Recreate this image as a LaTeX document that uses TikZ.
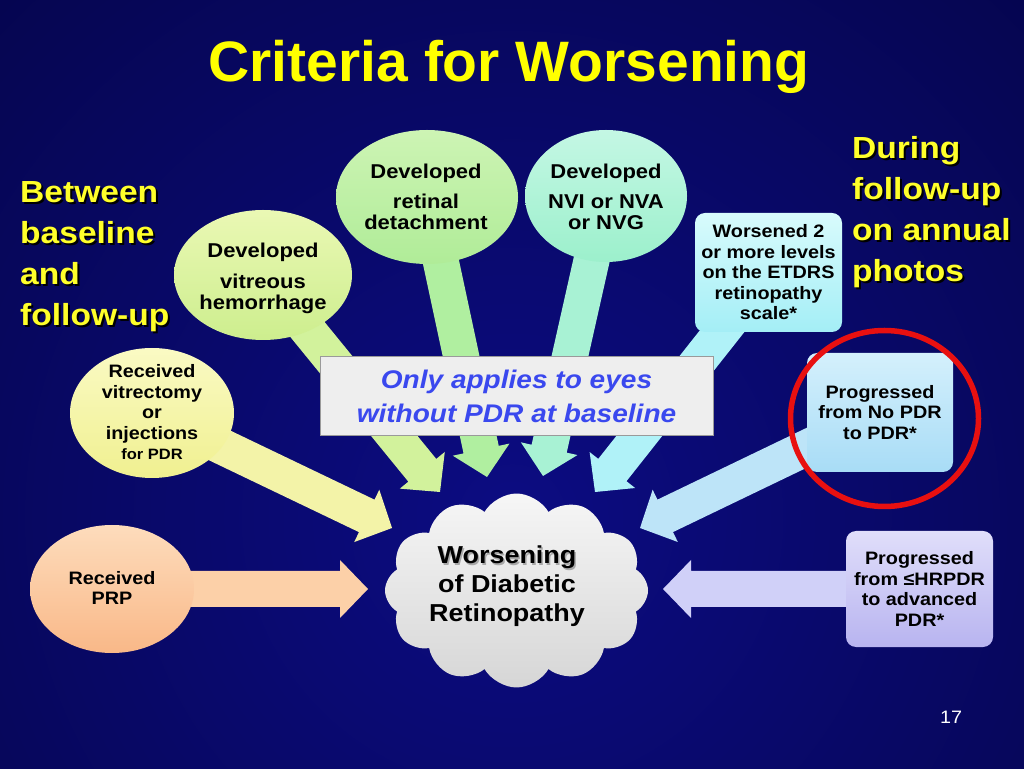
\documentclass[tikz,border=0pt]{standalone}
\usepackage{fontspec}
\setmainfont{Liberation Sans}[FakeStretch=1.1]
\newfontfamily\titlefont{Liberation Sans}
\usetikzlibrary{shapes.geometric,shapes.symbols,calc}
\pgfdeclarelayer{back}
\pgfdeclarelayer{arr}
\pgfsetlayers{back,arr,main}

\definecolor{bgin}{HTML}{0C0C82}
\definecolor{bgout}{HTML}{00002A}
\definecolor{titleyellow}{HTML}{FFFF00}
\definecolor{sideyellow}{HTML}{FFFF2A}
\definecolor{vhtop}{HTML}{EAF8B4}\definecolor{vhbot}{HTML}{CDEE8E}
\definecolor{rdtop}{HTML}{CDF4B4}\definecolor{rdbot}{HTML}{B0EC98}
\definecolor{nvtop}{HTML}{C4F7E4}\definecolor{nvbot}{HTML}{9CF0CC}
\definecolor{wbtop}{HTML}{D8FBFC}\definecolor{wbbot}{HTML}{A4EEF6}
\definecolor{vttop}{HTML}{FAFAC4}\definecolor{vtbot}{HTML}{F0F090}
\definecolor{prtop}{HTML}{FDDCBC}\definecolor{prbot}{HTML}{F9B888}
\definecolor{nptop}{HTML}{D4F0FC}\definecolor{npbot}{HTML}{A8DCF6}
\definecolor{hrtop}{HTML}{E0DEFA}\definecolor{hrbot}{HTML}{B8B4F0}
\definecolor{avh}{HTML}{D2F29C}
\definecolor{ard}{HTML}{B0EFA0}
\definecolor{anv}{HTML}{A8F2D4}
\definecolor{awb}{HTML}{B0F2F8}
\definecolor{avt}{HTML}{F3F3A8}
\definecolor{apr}{HTML}{FCD0A8}
\definecolor{anp}{HTML}{BDE4F8}
\definecolor{ahr}{HTML}{D0D0F8}
\definecolor{notefill}{HTML}{EEEEEE}
\definecolor{noteborder}{HTML}{9A9A9A}
\definecolor{noteblue}{HTML}{3A48EE}
\definecolor{cloudtop}{HTML}{F6F6F6}
\definecolor{cloudbot}{HTML}{D6D6D6}
\definecolor{ringred}{HTML}{E81010}

% block arrow from node #1 to tip coordinate #2, colour #3
\newcommand\blockarr[3]{%
  \path let \p1=($(#2)-(#1)$) in
    \pgfextra{\pgfmathsetmacro\arrang{atan2(\y1,\x1)}%
              \pgfmathsetmacro\arrlen{veclen(\x1,\y1)}%
              \xdef\arrang{\arrang}\xdef\arrlen{\arrlen}};
  \fill[#3, shift={(#2)}, rotate=\arrang]
    (0,0) -- (-28,29) -- (-28,18) -- (-\arrlen,18) -- (-\arrlen,-18)
    -- (-28,-18) -- (-28,-29) -- cycle;}

\begin{document}
\begin{tikzpicture}[x=1pt,y=1pt,
  ell/.style={ellipse, inner sep=0pt},
  rbox/.style={rectangle, rounded corners=10pt, inner sep=0pt, align=center,
    font=\bfseries\fontsize{18}{20.5}\selectfont},
  etxt/.style={align=center, inner sep=0pt, font=\bfseries\fontsize{20}{21}\selectfont},
  vtxt/.style={align=center, inner sep=0pt, font=\bfseries\fontsize{18}{20.5}\selectfont},
  side/.style={align=left, anchor=west, inner sep=0pt, text=sideyellow,
    font=\bfseries\fontsize{30.5}{41}\selectfont},
  sideshadow/.style={side, text=black},
  titletxt/.style={inner sep=0pt, text=titleyellow, font=\titlefont\bfseries\fontsize{57}{60}\selectfont},
  cloudtxt/.style={align=center, inner sep=0pt, font=\bfseries\fontsize{24.5}{29}\selectfont},
]
\useasboundingbox (0,0) rectangle (1024,768);

\begin{pgfonlayer}{back}
  \clip (0,0) rectangle (1024,768);
  \fill[bgout] (0,0) rectangle (1024,768);
  \shade[inner color=bgin, outer color=bgout] (512,250) circle (1300);
\end{pgfonlayer}

% title
\node[titletxt] (title) at (509,701) {Criteria for Worsening};

% side labels
\node[sideshadow] (leftsh) at (22,509) {Between\\baseline\\and\\follow-up};
\node[side] (left) at (20,511) {Between\\baseline\\and\\follow-up};
\node[sideshadow] (rightsh) at (854,554) {During\\follow-up\\on annual\\photos};
\node[side] (right) at (852,556) {During\\follow-up\\on annual\\photos};

% source shapes
\node[ell, top color=vhtop, bottom color=vhbot, minimum width=178, minimum height=130] (vh) at (263,493) {};
\node[etxt] (vhtext) at (263,490) {Developed\\[10pt]vitreous\\hemorrhage};
\node[ell, top color=rdtop, bottom color=rdbot, minimum width=182, minimum height=134] (rd) at (427,571) {};
\node[etxt] (rdtext) at (426,571.5) {Developed\\[9pt]retinal\\detachment};
\node[ell, top color=nvtop, bottom color=nvbot, minimum width=162, minimum height=132] (nv) at (606,572) {};
\node[etxt] (nvtext) at (606,571.5) {Developed\\[9pt]NVI or NVA\\or NVG};
\node[rbox, top color=wbtop, bottom color=wbbot, minimum width=147, minimum height=119] (wb) at (768.5,495.5)
  {Worsened 2\\or more levels\\on the ETDRS\\retinopathy\\scale*};
\node[ell, top color=vttop, bottom color=vtbot, minimum width=164, minimum height=130] (vt) at (152,355) {};
\node[vtxt] (vttext) at (152,355.5) {Received\\vitrectomy\\or\\injections\\{\fontsize{15}{17}\selectfont for PDR}};
\node[ell, top color=prtop, bottom color=prbot, minimum width=164, minimum height=128] (prp) at (112,179) {};
\node[vtxt] (prptext) at (112,180) {Received\\PRP};
\node[rbox, top color=nptop, bottom color=npbot, minimum width=146, minimum height=119] (np) at (880,355.5)
  {Progressed\\from No PDR\\to PDR*};
\node[rbox, top color=hrtop, bottom color=hrbot, minimum width=147, minimum height=116] (hr) at (919.5,179)
  {Progressed\\from ≤HRPDR\\to advanced\\PDR*};

% target cloud
\node[cloud, cloud puffs=12, cloud puff arc=120, aspect=1.35, inner sep=0pt,
  minimum width=263, minimum height=194, top color=cloudtop, bottom color=cloudbot] (cloud) at (516.5,177.5) {};
\node[cloudtxt, text=black!45, opacity=0.7] (cloudsh) at (508.5,180)
  {Worsening\\\phantom{of Diabetic}\\\phantom{Retinopathy}};
\node[cloudtxt] (cloudtext) at (507,181.5) {Worsening\\of Diabetic\\Retinopathy};

% note box
\node[rectangle, fill=notefill, draw=noteborder, line width=1pt, minimum width=393, minimum height=79,
  inner sep=0pt, align=center, text=noteblue,
  font=\bfseries\itshape\fontsize{25.5}{33.5}\selectfont] (note) at (516.5,371.5)
  {Only applies to eyes\\without PDR at baseline};

% red ring
\node[ellipse, draw=ringred, line width=5.5pt, minimum width=188, minimum height=176, inner sep=0pt] (ring) at (884.5,349.5) {};

% page number
\node[text=white, inner sep=0pt, font=\fontsize{18}{20}\selectfont] (page) at (951,51) {17};

% arrow tips
\coordinate (tvh) at (440,276);
\coordinate (trd) at (487,291);
\coordinate (tnv) at (543,292);
\coordinate (twb) at (595,276);
\coordinate (tvt) at (392,240);
\coordinate (tpr) at (368,179);
\coordinate (tnp) at (640,240);
\coordinate (thr) at (663,179);

\begin{pgfonlayer}{arr}
  \blockarr{vh}{tvh}{avh}
  \blockarr{rd}{trd}{ard}
  \blockarr{nv}{tnv}{anv}
  \blockarr{wb}{twb}{awb}
  \blockarr{vt}{tvt}{avt}
  \blockarr{prp}{tpr}{apr}
  \blockarr{np}{tnp}{anp}
  \blockarr{hr}{thr}{ahr}
\end{pgfonlayer}
\end{tikzpicture}
\end{document}
